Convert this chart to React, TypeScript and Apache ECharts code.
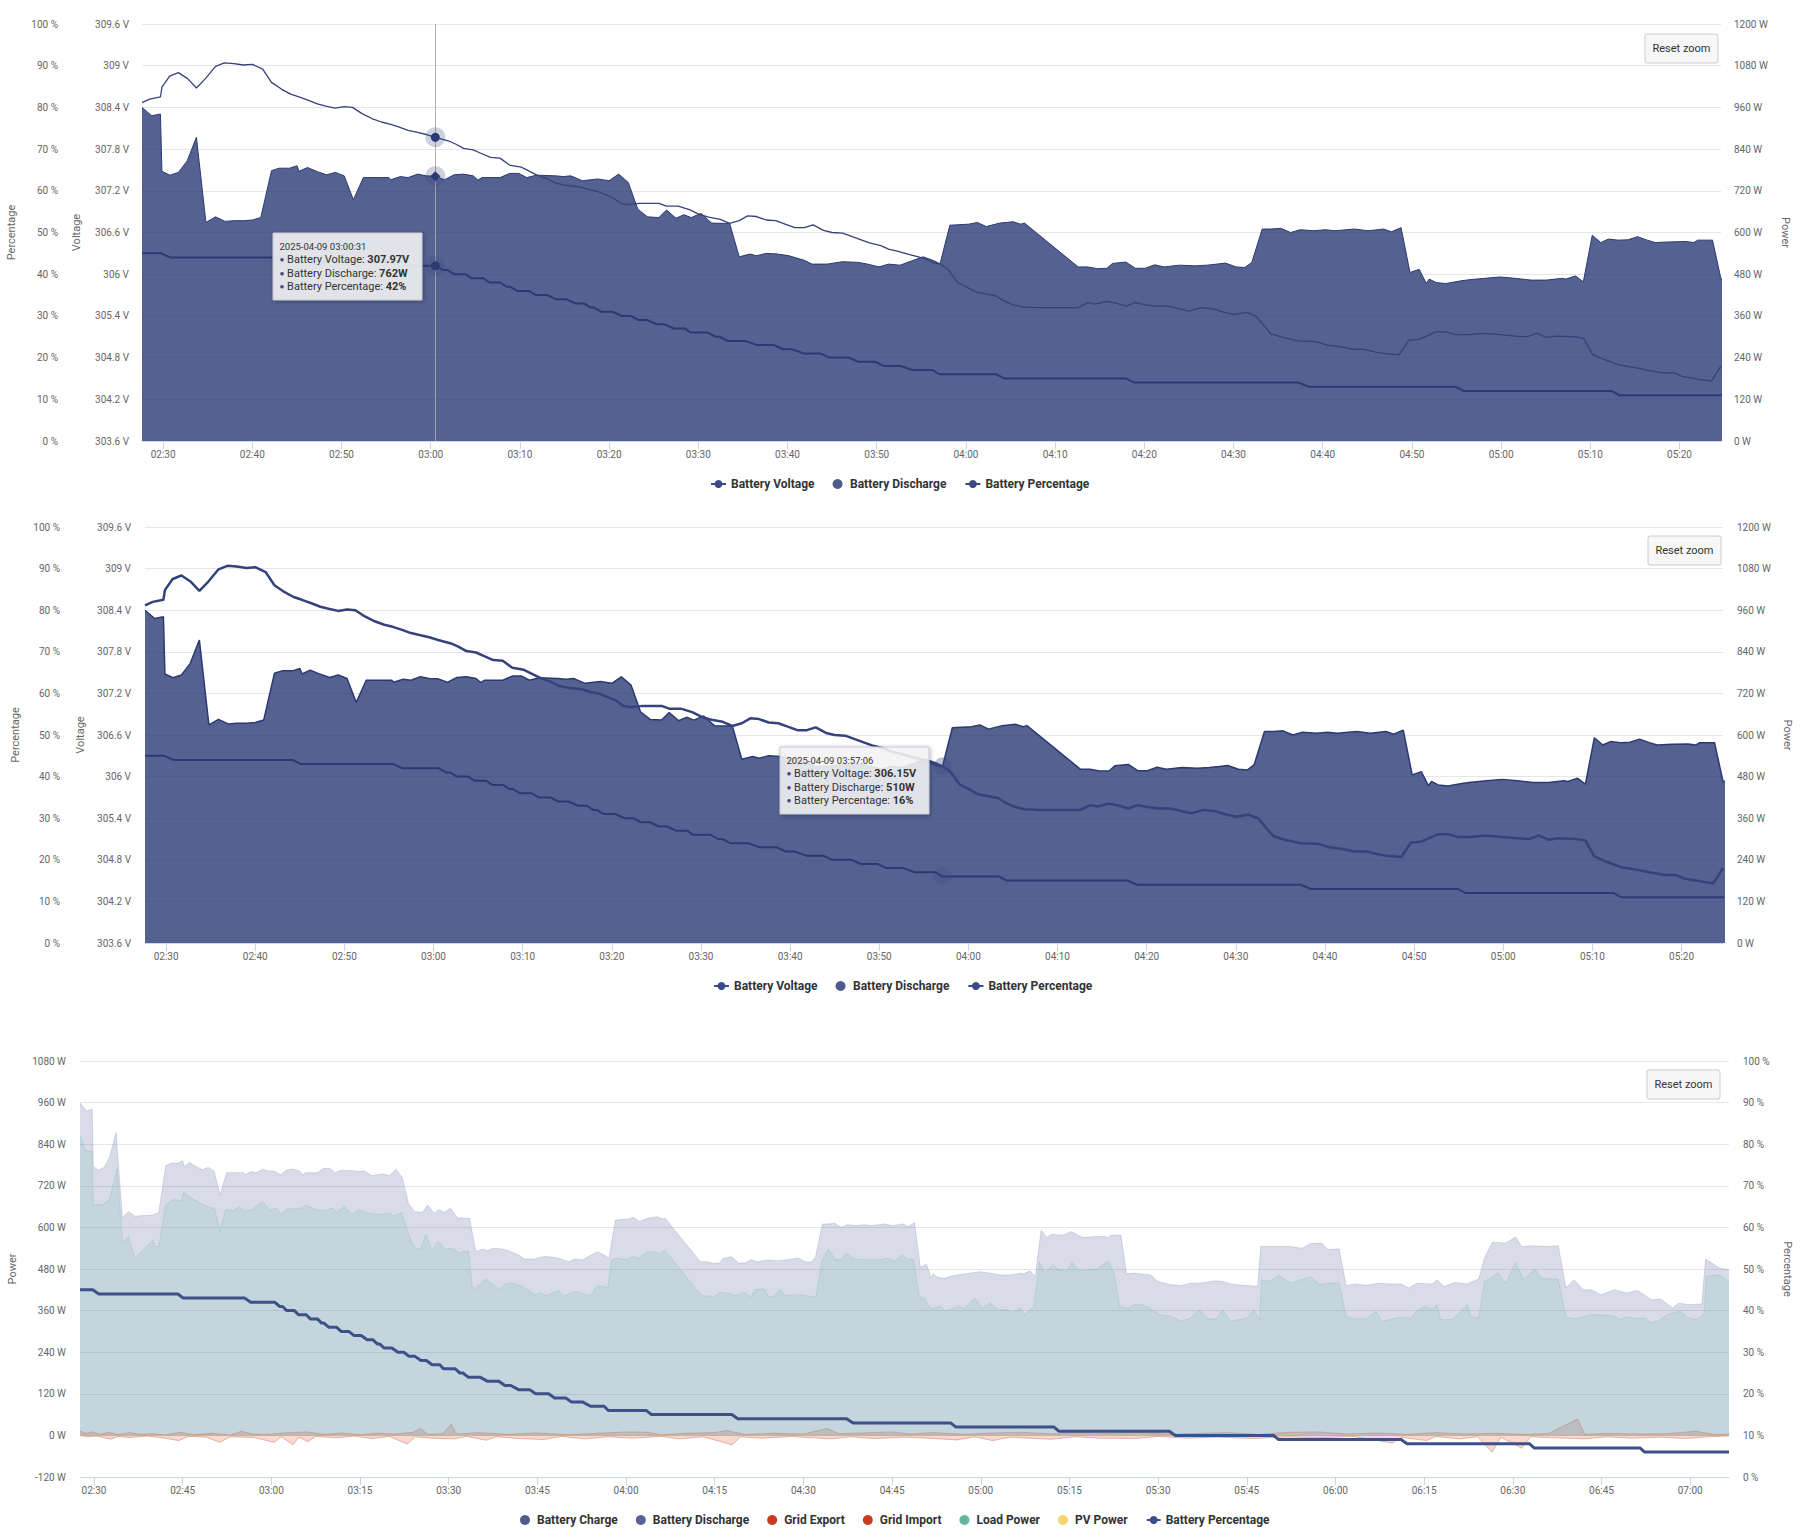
import React, { useEffect, useRef } from "react";
import * as echarts from "echarts";

const DAY = "2025-04-09";
const FONT = "Roboto, 'Noto Sans', sans-serif";

// ---------- data ----------
const batteryVoltage: [string, number][] = [
  ["02:27:38", 308.47], ["02:28:30", 308.52], ["02:29:42", 308.55], ["02:29:52", 308.69], ["02:30:44", 308.85],
  ["02:31:43", 308.9], ["02:32:47", 308.81], ["02:33:44", 308.68], ["02:34:43", 308.81], ["02:35:53", 308.99],
  ["02:36:52", 309.04], ["02:37:56", 309.03], ["02:39:01", 309.01], ["02:40:00", 309.02], ["02:41:10", 308.95],
  ["02:42:09", 308.76], ["02:43:18", 308.66], ["02:44:18", 308.59], ["02:45:14", 308.55], ["02:46:18", 308.5],
  ["02:47:18", 308.45], ["02:48:14", 308.42], ["02:49:18", 308.39], ["02:50:18", 308.41], ["02:51:14", 308.4],
  ["02:52:18", 308.31], ["02:53:24", 308.24], ["02:54:28", 308.19], ["02:55:26", 308.16], ["02:56:24", 308.12],
  ["02:57:28", 308.07], ["02:58:32", 308.04], ["02:59:31", 308.01], ["03:00:31", 307.97], ["03:01:58", 307.92],
  ["03:02:50", 307.87], ["03:03:41", 307.81], ["03:04:46", 307.79], ["03:05:37", 307.74], ["03:06:42", 307.68],
  ["03:07:46", 307.67], ["03:08:50", 307.57], ["03:10:08", 307.54], ["03:10:46", 307.5], ["03:11:51", 307.43],
  ["03:13:08", 307.37], ["03:14:00", 307.31], ["03:15:04", 307.28], ["03:16:34", 307.26], ["03:17:40", 307.22],
  ["03:18:43", 307.19], ["03:20:26", 307.1], ["03:21:17", 307.02], ["03:22:09", 307.0], ["03:23:26", 307.02],
  ["03:25:35", 307.02], ["03:26:26", 306.98], ["03:27:44", 306.98], ["03:29:01", 306.93], ["03:30:05", 306.86],
  ["03:31:10", 306.82], ["03:32:27", 306.79], ["03:33:31", 306.73], ["03:34:35", 306.77], ["03:35:32", 306.84],
  ["03:36:31", 306.83], ["03:37:36", 306.78], ["03:38:40", 306.77], ["03:39:44", 306.72], ["03:40:49", 306.67],
  ["03:41:53", 306.67], ["03:42:52", 306.71], ["03:44:02", 306.63], ["03:44:59", 306.6], ["03:46:11", 306.59],
  ["03:47:15", 306.54], ["03:48:20", 306.49], ["03:49:11", 306.45], ["03:50:28", 306.41], ["03:51:20", 306.36],
  ["03:52:24", 306.33], ["03:53:29", 306.29], ["03:55:12", 306.23], ["03:56:29", 306.16], ["03:57:06", 306.15],
  ["03:57:59", 306.07], ["03:59:04", 305.88], ["03:59:54", 305.83], ["04:00:59", 305.75], ["04:02:04", 305.72],
  ["04:03:21", 305.69], ["04:04:12", 305.62], ["04:05:17", 305.56], ["04:06:21", 305.53], ["04:08:04", 305.52],
  ["04:12:35", 305.52], ["04:13:39", 305.59], ["04:14:30", 305.57], ["04:15:48", 305.61], ["04:16:54", 305.58],
  ["04:17:56", 305.54], ["04:19:00", 305.59], ["04:20:05", 305.56], ["04:21:22", 305.54], ["04:22:40", 305.54],
  ["04:23:57", 305.5], ["04:25:00", 305.47], ["04:26:23", 305.52], ["04:27:42", 305.5], ["04:29:00", 305.45],
  ["04:30:05", 305.42], ["04:31:23", 305.45], ["04:32:29", 305.4], ["04:34:13", 305.14], ["04:35:31", 305.09],
  ["04:37:16", 305.04], ["04:39:13", 305.03], ["04:40:31", 304.98], ["04:41:49", 304.96], ["04:43:21", 304.92],
  ["04:44:39", 304.92], ["04:45:57", 304.88], ["04:46:50", 304.86], ["04:48:34", 304.84], ["04:49:39", 305.05],
  ["04:50:44", 305.06], ["04:52:42", 305.17], ["04:53:47", 305.17], ["04:54:52", 305.13], ["04:56:23", 305.13],
  ["04:57:54", 305.15], ["04:59:52", 305.13], ["05:01:36", 305.11], ["05:02:55", 305.1], ["05:04:00", 305.15],
  ["05:05:05", 305.09], ["05:06:10", 305.11], ["05:08:08", 305.1], ["05:09:13", 305.08], ["05:10:13", 304.85],
  ["05:11:23", 304.78], ["05:12:02", 304.75], ["05:13:21", 304.69], ["05:14:52", 304.66], ["05:16:23", 304.62],
  ["05:18:08", 304.58], ["05:19:26", 304.58], ["05:20:18", 304.53], ["05:22:02", 304.49], ["05:23:34", 304.46],
  ["05:24:39", 304.68],
];

const batteryDischarge: [string, number][] = [
  ["02:27:38", 960], ["02:28:43", 936], ["02:29:42", 941], ["02:29:52", 776], ["02:30:46", 765], ["02:31:43", 773],
  ["02:32:42", 806], ["02:33:44", 874], ["02:34:48", 629], ["02:35:53", 645], ["02:36:57", 632], ["02:37:56", 634],
  ["02:39:01", 634], ["02:40:00", 636], ["02:40:57", 643], ["02:42:09", 778], ["02:43:00", 785], ["02:44:10", 785],
  ["02:45:01", 792], ["02:45:14", 776], ["02:46:11", 787], ["02:47:18", 775], ["02:48:20", 766], ["02:49:18", 773],
  ["02:50:18", 763], ["02:51:20", 694], ["02:52:27", 758], ["02:54:15", 758], ["02:55:19", 758], ["02:55:32", 752],
  ["02:56:36", 761], ["02:57:28", 758], ["02:58:32", 768], ["02:59:30", 763], ["03:00:31", 762], ["03:01:33", 752],
  ["03:02:37", 766], ["03:03:41", 768], ["03:04:46", 763], ["03:05:17", 751], ["03:05:45", 758], ["03:07:46", 758],
  ["03:08:50", 770], ["03:09:54", 770], ["03:10:46", 758], ["03:11:51", 765], ["03:14:00", 763], ["03:14:51", 761],
  ["03:15:42", 763], ["03:17:00", 749], ["03:18:43", 754], ["03:20:00", 749], ["03:21:04", 768], ["03:22:09", 744],
  ["03:23:13", 667], ["03:24:18", 645], ["03:25:35", 643], ["03:26:26", 665], ["03:27:30", 641], ["03:28:22", 651],
  ["03:29:13", 643], ["03:30:18", 655], ["03:31:30", 627], ["03:33:31", 626], ["03:34:35", 530], ["03:35:48", 538],
  ["03:36:31", 533], ["03:37:36", 540], ["03:38:53", 538], ["03:40:10", 533], ["03:41:53", 520], ["03:42:45", 509],
  ["03:44:28", 509], ["03:46:11", 516], ["03:47:54", 514], ["03:48:58", 509], ["03:50:15", 501], ["03:51:20", 509],
  ["03:52:37", 506], ["03:53:54", 518], ["03:55:12", 530], ["03:56:29", 518], ["03:57:06", 510], ["03:58:12", 621],
  ["04:00:20", 624], ["04:01:17", 629], ["04:02:16", 617], ["04:03:47", 627], ["04:05:17", 631], ["04:06:09", 624],
  ["04:06:34", 627], ["04:12:35", 501], ["04:13:39", 501], ["04:14:43", 496], ["04:15:48", 497], ["04:16:26", 511],
  ["04:17:56", 515], ["04:19:00", 497], ["04:20:05", 497], ["04:21:10", 507], ["04:22:14", 501], ["04:23:57", 506],
  ["04:25:40", 504], ["04:27:02", 506], ["04:28:08", 509], ["04:29:05", 512], ["04:30:18", 501], ["04:31:16", 499],
  ["04:32:03", 514], ["04:33:13", 610], ["04:34:13", 610], ["04:35:18", 612], ["04:36:24", 600], ["04:37:29", 608],
  ["04:39:00", 605], ["04:40:18", 608], ["04:41:23", 605], ["04:43:34", 610], ["04:45:05", 605], ["04:46:50", 610],
  ["04:47:42", 602], ["04:48:47", 614], ["04:49:47", 485], ["04:50:49", 494], ["04:51:36", 454], ["04:51:57", 466],
  ["04:52:42", 456], ["04:53:47", 453], ["04:55:31", 461], ["04:56:23", 464], ["04:58:08", 468], ["04:59:52", 472],
  ["05:01:36", 468], ["05:03:21", 463], ["05:05:05", 463], ["05:06:49", 468], ["05:07:15", 466], ["05:08:21", 475],
  ["05:09:13", 458], ["05:10:13", 592], ["05:11:10", 571], ["05:12:02", 581], ["05:13:08", 578], ["05:14:13", 579],
  ["05:15:18", 588], ["05:16:23", 578], ["05:17:16", 571], ["05:19:00", 573], ["05:20:44", 574], ["05:21:36", 571],
  ["05:22:02", 578], ["05:23:42", 578], ["05:24:39", 466], ["05:26:06", 468], ["05:28:41", 463], ["05:30:00", 444],
  ["05:31:55", 435], ["05:33:52", 432], ["05:35:28", 439], ["05:37:00", 439], ["05:39:37", 446], ["05:40:56", 444],
  ["05:42:15", 437], ["05:44:13", 433], ["05:46:50", 430], ["05:47:22", 545], ["05:52:05", 545], ["05:54:23", 540],
  ["05:55:42", 553], ["05:57:40", 555], ["05:58:39", 536], ["06:00:37", 538], ["06:01:48", 432], ["06:03:14", 437],
  ["06:05:12", 433], ["06:07:11", 439], ["06:09:09", 437], ["06:11:07", 437], ["06:12:26", 425], ["06:13:44", 439],
  ["06:16:22", 437], ["06:17:09", 449], ["06:18:20", 430], ["06:20:18", 441], ["06:22:16", 437], ["06:23:15", 444],
  ["06:24:14", 451], ["06:25:13", 512], ["06:26:32", 557], ["06:28:50", 555], ["06:30:28", 572], ["06:31:28", 545],
  ["06:33:26", 547], ["06:35:43", 545], ["06:37:41", 547], ["06:39:00", 425], ["06:40:19", 449], ["06:41:58", 420],
  ["06:43:16", 420], ["06:44:54", 406], ["06:47:12", 420], ["06:49:10", 411], ["06:51:08", 418], ["06:53:26", 391],
  ["06:55:05", 393], ["06:57:03", 367], ["06:58:02", 382], ["06:59:40", 377], ["07:01:58", 379], ["07:02:37", 509],
  ["07:04:55", 483], ["07:06:34", 478],
];

const loadPower: [string, number][] = [
  ["02:27:38", 864], ["02:28:43", 819], ["02:29:41", 819], ["02:29:52", 665], ["02:31:17", 665], ["02:32:35", 678],
  ["02:33:53", 768], ["02:34:51", 555], ["02:35:49", 574], ["02:36:55", 512], ["02:38:24", 537], ["02:40:01", 564],
  ["02:40:20", 545], ["02:40:59", 545], ["02:42:05", 663], ["02:43:15", 680], ["02:44:52", 678], ["02:45:11", 701],
  ["02:46:29", 684], ["02:48:06", 670], ["02:49:43", 656], ["02:50:22", 656], ["02:51:20", 589], ["02:52:18", 651],
  ["02:53:36", 648], ["02:54:34", 660], ["02:55:32", 646], ["02:56:50", 652], ["02:58:27", 675], ["02:59:44", 649],
  ["03:00:42", 656], ["03:01:40", 639], ["03:02:39", 652], ["03:05:14", 656], ["03:05:53", 665], ["03:07:30", 651],
  ["03:09:06", 649], ["03:10:24", 656], ["03:11:03", 643], ["03:12:20", 660], ["03:13:38", 639], ["03:14:56", 651],
  ["03:16:13", 641], ["03:18:10", 637], ["03:20:06", 641], ["03:20:44", 632], ["03:22:02", 643], ["03:23:20", 574],
  ["03:24:18", 540], ["03:25:16", 538], ["03:26:07", 580], ["03:27:13", 533], ["03:28:11", 560], ["03:29:28", 538],
  ["03:30:46", 540], ["03:31:44", 526], ["03:33:21", 533], ["03:34:00", 425], ["03:34:38", 425], ["03:36:15", 451],
  ["03:38:30", 422], ["03:39:48", 439], ["03:40:46", 439], ["03:42:23", 430], ["03:44:40", 406], ["03:45:18", 411],
  ["03:46:36", 403], ["03:48:32", 418], ["03:49:30", 401], ["03:50:48", 412], ["03:51:46", 415], ["03:53:04", 406],
  ["03:54:02", 403], ["03:55:00", 430], ["03:56:15", 430], ["03:56:54", 425], ["03:57:32", 507], ["03:58:31", 511],
  ["04:00:08", 507], ["04:01:06", 516], ["04:02:04", 511], ["04:03:22", 526], ["04:04:39", 531], ["04:05:37", 524],
  ["04:06:36", 534], ["04:12:44", 403], ["04:15:00", 401], ["04:15:58", 412], ["04:17:35", 409], ["04:18:33", 403],
  ["04:19:51", 412], ["04:21:08", 399], ["04:21:47", 420], ["04:23:24", 422], ["04:24:03", 401], ["04:25:00", 401],
  ["04:25:59", 422], ["04:26:57", 403], ["04:29:13", 406], ["04:31:09", 401], ["04:32:08", 399], ["04:33:06", 502],
  ["04:34:12", 537], ["04:35:21", 508], ["04:36:19", 505], ["04:37:17", 526], ["04:38:35", 508], ["04:40:51", 507],
  ["04:42:47", 507], ["04:44:24", 511], ["04:45:23", 502], ["04:46:40", 520], ["04:47:38", 508], ["04:48:36", 508],
  ["04:49:35", 401], ["04:50:33", 393], ["04:51:31", 364], ["04:53:08", 372], ["04:54:06", 358], ["04:56:03", 372],
  ["04:57:20", 367], ["04:58:57", 396], ["05:00:15", 367], ["05:01:32", 382], ["05:02:11", 372], ["05:03:09", 361],
  ["05:04:27", 363], ["05:05:25", 355], ["05:06:43", 367], ["05:07:22", 348], ["05:08:58", 372], ["05:09:56", 499],
  ["05:10:54", 468], ["05:12:12", 492], ["05:13:10", 478], ["05:14:28", 473], ["05:15:26", 499], ["05:16:24", 478],
  ["05:17:23", 476], ["05:19:00", 478], ["05:19:38", 480], ["05:21:35", 502], ["05:22:33", 468], ["05:23:31", 372],
  ["05:24:48", 367], ["05:26:06", 377], ["05:27:24", 377], ["05:29:01", 362], ["05:30:18", 348], ["05:32:14", 343],
  ["05:33:52", 329], ["05:35:29", 338], ["05:36:58", 362], ["05:38:19", 338], ["05:39:37", 334], ["05:40:56", 362],
  ["05:42:15", 329], ["05:43:34", 334], ["05:44:52", 336], ["05:46:11", 362], ["05:47:10", 334], ["05:47:30", 449],
  ["05:48:48", 444], ["05:50:27", 461], ["05:52:25", 439], ["05:54:03", 449], ["05:55:42", 457], ["05:57:20", 435],
  ["05:58:59", 439], ["06:00:37", 439], ["06:01:48", 343], ["06:03:14", 336], ["06:05:12", 336], ["06:06:51", 358],
  ["06:07:50", 329], ["06:09:09", 334], ["06:11:07", 341], ["06:12:45", 338], ["06:13:44", 358], ["06:15:03", 372],
  ["06:16:22", 364], ["06:17:09", 377], ["06:17:48", 334], ["06:19:39", 334], ["06:20:58", 353], ["06:22:16", 377],
  ["06:22:56", 343], ["06:24:14", 338], ["06:25:13", 444], ["06:27:31", 468], ["06:28:50", 439], ["06:30:28", 499],
  ["06:31:47", 449], ["06:33:45", 480], ["06:34:44", 454], ["06:36:03", 451], ["06:37:41", 451], ["06:39:00", 341],
  ["06:40:38", 336], ["06:41:58", 343], ["06:43:16", 348], ["06:45:14", 348], ["06:47:12", 343], ["06:48:12", 334],
  ["06:49:10", 341], ["06:51:08", 338], ["06:52:27", 338], ["06:53:26", 324], ["06:54:45", 332], ["06:56:24", 351],
  ["06:58:22", 358], ["06:59:40", 338], ["07:00:59", 334], ["07:02:18", 348], ["07:02:47", 459], ["07:04:55", 464],
  ["07:06:34", 444],
];

const batteryPercentage: [string, number][] = [
  ["02:27:38", 45], ["02:29:48", 45], ["02:30:48", 44], ["02:44:12", 44], ["02:45:06", 43], ["02:55:30", 43],
  ["02:56:30", 42], ["03:00:36", 42], ["03:01:24", 41], ["03:01:54", 41], ["03:02:36", 40], ["03:03:54", 40],
  ["03:04:36", 39], ["03:05:54", 39], ["03:06:36", 38], ["03:07:48", 38], ["03:08:30", 37], ["03:08:54", 37],
  ["03:09:42", 36], ["03:11:00", 36], ["03:11:48", 35], ["03:13:06", 35], ["03:14:00", 34], ["03:15:12", 34],
  ["03:16:12", 33], ["03:17:12", 33], ["03:17:54", 32], ["03:18:18", 32], ["03:19:06", 31], ["03:20:24", 31],
  ["03:21:24", 30], ["03:22:24", 30], ["03:23:18", 29], ["03:24:18", 29], ["03:25:18", 28], ["03:26:12", 28],
  ["03:27:12", 27], ["03:28:30", 27], ["03:29:06", 26], ["03:31:06", 26], ["03:31:54", 25], ["03:32:24", 25],
  ["03:33:18", 24], ["03:35:18", 24], ["03:36:36", 23], ["03:38:30", 23], ["03:39:30", 22], ["03:40:30", 22],
  ["03:41:48", 21], ["03:43:42", 21], ["03:44:42", 20], ["03:46:54", 20], ["03:47:54", 19], ["03:49:48", 19],
  ["03:50:48", 18], ["03:52:42", 18], ["03:54:00", 17], ["03:56:18", 17], ["03:57:00", 16], ["04:03:24", 16],
  ["04:04:18", 15], ["04:17:54", 15], ["04:18:54", 14], ["04:37:18", 14], ["04:38:24", 13], ["04:54:54", 13],
  ["04:55:48", 12], ["05:12:24", 12], ["05:13:12", 11], ["05:31:54", 11], ["05:32:54", 10], ["05:49:30", 10],
  ["05:50:24", 9], ["06:11:06", 9], ["06:12:06", 8], ["06:32:48", 8], ["06:33:36", 7], ["06:51:30", 7],
  ["06:52:18", 6], ["07:06:34", 6],
];

const gridImport: [string, number][] = [
  ["02:27:38", 12], ["02:28:40", 6], ["02:29:40", 10], ["02:31:00", 3], ["02:32:30", 9], ["02:34:00", 2],
  ["02:36:00", 8], ["02:38:00", 3], ["02:40:00", 5], ["02:42:00", 1], ["02:44:30", 9], ["02:47:00", 2],
  ["02:50:00", 6], ["02:53:00", 1], ["02:55:00", 12], ["02:57:00", 3], ["03:00:00", 4], ["03:03:00", 8],
  ["03:06:00", 10], ["03:09:00", 3], ["03:12:00", 7], ["03:15:00", 2], ["03:18:00", 6], ["03:21:00", 4],
  ["03:24:00", 9], ["03:25:10", 20], ["03:26:30", 3], ["03:29:00", 5], ["03:30:26", 32], ["03:31:20", 4],
  ["03:35:00", 8], ["03:40:00", 3], ["03:45:00", 7], ["03:50:00", 2], ["03:55:00", 6], ["04:00:00", 10],
  ["04:03:30", 9], ["04:06:00", 2], ["04:10:00", 6], ["04:15:00", 8], ["04:17:00", 14], ["04:20:00", 3],
  ["04:25:00", 6], ["04:30:00", 4], ["04:34:00", 20], ["04:36:00", 5], ["04:40:00", 7], ["04:45:00", 10],
  ["04:48:00", 4], ["04:52:00", 8], ["04:57:00", 3], ["05:02:00", 7], ["05:07:00", 9], ["05:12:00", 4],
  ["05:17:00", 8], ["05:22:00", 5], ["05:27:00", 9], ["05:32:00", 3], ["05:37:00", 6], ["05:42:00", 8],
  ["05:47:00", 3], ["05:52:00", 9], ["05:57:00", 10], ["06:02:00", 4], ["06:07:00", 7], ["06:12:00", 3],
  ["06:17:00", 8], ["06:22:00", 4], ["06:27:00", 6], ["06:32:00", 3], ["06:36:00", 5], ["06:40:58", 47],
  ["06:42:10", 3], ["06:46:00", 6], ["06:51:00", 4], ["06:56:00", 5], ["07:01:00", 12], ["07:04:00", 3],
  ["07:06:34", 4],
];

const gridExport: [string, number][] = [
  ["02:27:38", 0], ["02:29:00", -4], ["02:30:30", -2], ["02:32:50", -11], ["02:34:00", -3], ["02:36:00", -6],
  ["02:39:00", -2], ["02:42:00", -8], ["02:44:20", -15], ["02:46:00", -3], ["02:49:00", -5], ["02:51:20", -20],
  ["02:53:00", -4], ["02:57:00", -6], ["03:00:30", -20], ["03:01:40", -4], ["03:03:40", -27], ["03:04:40", -5],
  ["03:06:10", -18], ["03:07:30", -3], ["03:11:00", -7], ["03:14:00", -2], ["03:17:00", -9], ["03:20:00", -3],
  ["03:23:00", -25], ["03:24:20", -4], ["03:27:00", -8], ["03:31:00", -10], ["03:33:00", -3], ["03:36:20", -14],
  ["03:38:00", -4], ["03:42:00", -9], ["03:46:00", -12], ["03:49:00", -3], ["03:53:00", -10], ["03:57:00", -4],
  ["04:01:00", -8], ["04:06:00", -3], ["04:09:00", -10], ["04:13:00", -4], ["04:18:00", -27], ["04:19:20", -4],
  ["04:23:00", -8], ["04:28:00", -3], ["04:34:30", -10], ["04:38:00", -4], ["04:42:00", -9], ["04:47:00", -5],
  ["04:51:00", -8], ["04:56:00", -13], ["04:59:00", -4], ["05:02:00", -15], ["05:05:00", -5], ["05:09:00", -9],
  ["05:12:00", -11], ["05:16:00", -4], ["05:20:00", -8], ["05:26:00", -9], ["05:30:00", -3], ["05:35:00", -8],
  ["05:40:00", -5], ["05:46:00", -9], ["05:52:00", -4], ["05:57:00", -7], ["06:03:00", -3], ["06:09:40", -22],
  ["06:11:00", -5], ["06:15:20", -15], ["06:17:00", -3], ["06:21:00", -10], ["06:24:00", -4], ["06:26:30", -48],
  ["06:28:00", -5], ["06:31:30", -37], ["06:33:00", -4], ["06:37:00", -7], ["06:42:00", -10], ["06:46:00", -4],
  ["06:50:00", -8], ["06:55:00", -5], ["06:59:00", -9], ["07:03:00", -4], ["07:06:34", -2],
];

const batteryCharge: [string, number][] = [["02:27:38", 0], ["07:06:34", 0]];
const pvPower: [string, number][] = [["02:27:38", 0], ["07:06:34", 0]];

const ticks10 = ["02:30", "02:40", "02:50", "03:00", "03:10", "03:20", "03:30", "03:40", "03:50", "04:00",
  "04:10", "04:20", "04:30", "04:40", "04:50", "05:00", "05:10", "05:20"];
const ticks15 = ["02:30", "02:45", "03:00", "03:15", "03:30", "03:45", "04:00", "04:15", "04:30", "04:45",
  "05:00", "05:15", "05:30", "05:45", "06:00", "06:15", "06:30", "06:45", "07:00"];
const rangeVoltage = ["02:27:38", "05:24:39"];
const rangePower = ["02:27:38", "07:06:34"];
const hover1 = "03:00:31";
const hover2 = "03:57:06";

// ---------- helpers ----------
const ts = (s: string) => new Date(`${DAY}T${s.length === 5 ? s + ":00" : s}`).getTime();
const pad = (n: number) => String(n).padStart(2, "0");
const hhmm = (v: number) => {
  const d = new Date(v);
  return `${pad(d.getHours())}:${pad(d.getMinutes())}`;
};
const toSeries = (arr: [string, number][]) => arr.map(([t, v]) => [ts(t), v]);
const valueAt = (arr: [string, number][], t: string) => {
  let val = arr[0][1];
  for (const [tt, v] of arr) if (ts(tt) <= ts(t)) val = v;
  return val;
};

const DARK = "#2b3a74";
const LINE = "#34437c";
const HALO = "rgba(61,75,128,0.25)";
const TOP = 200;

const xAxisFor = (gridIndex: number, range: string[], ticks: string[]) => {
  const vals = ticks.map(ts);
  return {
    type: "value",
    gridIndex,
    min: ts(range[0]),
    max: ts(range[1]),
    axisLine: { show: true, onZero: false, lineStyle: { color: "#ccd6eb", width: 1 } },
    axisTick: { show: true, length: 8, lineStyle: { color: "#ccd6eb" }, customValues: vals },
    axisLabel: { color: "#666", fontSize: 10, fontFamily: FONT, margin: 8, formatter: hhmm, customValues: vals, hideOverlap: false },
    splitLine: { show: false },
  };
};

const yBase = (o: any) => ({
  axisLine: { show: false },
  axisTick: { show: false },
  nameLocation: "middle",
  nameTextStyle: { color: "#666", fontSize: 11, fontFamily: FONT },
  ...o,
  axisLabel: { color: "#666", fontSize: 10, fontFamily: FONT, ...(o.axisLabel || {}) },
});

const pctAxis = (gridIndex: number, position: string, offset: number, nameGap: number, split: boolean, margin: number, rotate?: number) =>
  yBase({
    type: "value", gridIndex, position, offset, min: 0, max: 100, interval: 10,
    name: "Percentage", nameGap, nameRotate: rotate,
    splitLine: { show: split, lineStyle: { color: "#e6e6e6", width: 1 } },
    axisLabel: { margin, formatter: (v: number) => `${v} %` },
  });
const voltAxis = (gridIndex: number, nameGap: number, margin: number) =>
  yBase({
    type: "value", gridIndex, position: "left", offset: 0, min: 303.6, max: 309.6, interval: 0.6,
    name: "Voltage", nameGap, splitLine: { show: false },
    axisLabel: { margin, formatter: (v: number) => `${parseFloat(v.toFixed(1))} V` },
  });
const powerAxis = (gridIndex: number, position: string, min: number, max: number, nameGap: number, split: boolean, margin: number, rotate?: number) =>
  yBase({
    type: "value", gridIndex, position, offset: 0, min, max, interval: 120,
    name: "Power", nameGap, nameRotate: rotate,
    splitLine: { show: split, lineStyle: { color: "#e6e6e6", width: 1 } },
    axisLabel: { margin, formatter: (v: number) => `${v} W` },
  });

const dot = (t: string, v: number, symbol: string, size: number, color: string) => ({
  coord: [ts(t), v], symbol, symbolSize: size, itemStyle: { color },
});
const markPts = (items: any[]) => ({ silent: true, animation: false, label: { show: false }, data: items });

const voltageChart = (xi: number, yPct: number, yVolt: number, yPow: number, hover: string, active: boolean, vWidth: number, dWidth: number) => {
  const v = valueAt(batteryVoltage, hover);
  const d = valueAt(batteryDischarge, hover);
  const p = valueAt(batteryPercentage, hover);
  const fade = "rgba(61,75,128,0.35)";
  const disc: any = {
    name: "Battery Discharge", type: "line", xAxisIndex: xi, yAxisIndex: yPow, data: toSeries(batteryDischarge),
    showSymbol: false, symbol: "circle", itemStyle: { color: DARK }, lineStyle: { width: dWidth, color: DARK },
    areaStyle: { color: DARK, opacity: 0.8 }, z: 2, emphasis: { disabled: true }, silent: true,
    markPoint: markPts(active
      ? [dot(hover, d, "circle", 20, HALO), dot(hover, d, "diamond", 10, DARK)]
      : [dot(hover, d, "circle", 18, fade)]),
  };
  if (active) {
    disc.markLine = {
      silent: true, symbol: ["none", "none"], label: { show: false },
      lineStyle: { color: "rgba(170,170,170,0.9)", width: 1, type: "solid" }, data: [{ xAxis: ts(hover) }],
    };
  }
  return [
    disc,
    {
      name: "Battery Voltage", type: "line", xAxisIndex: xi, yAxisIndex: yVolt, data: toSeries(batteryVoltage),
      showSymbol: false, symbol: "circle", itemStyle: { color: LINE }, lineStyle: { width: vWidth, color: LINE },
      z: 3, emphasis: { disabled: true }, silent: true,
      markPoint: markPts(active ? [dot(hover, v, "circle", 20, HALO), dot(hover, v, "circle", 9, DARK)] : []),
    },
    {
      name: "Battery Percentage", type: "line", xAxisIndex: xi, yAxisIndex: yPct, data: toSeries(batteryPercentage),
      showSymbol: false, symbol: "circle", itemStyle: { color: DARK }, lineStyle: { width: 2, color: DARK },
      z: 3, emphasis: { disabled: true }, silent: true,
      markPoint: markPts(active
        ? [dot(hover, p, "circle", 20, HALO), dot(hover, p, "circle", 9, DARK)]
        : [dot(hover, p, "circle", 18, "rgba(61,75,128,0.22)")]),
    },
  ];
};

const tooltipGroup = (x: number, y: number, hover: string) => {
  const v = valueAt(batteryVoltage, hover);
  const d = valueAt(batteryDischarge, hover);
  const p = valueAt(batteryPercentage, hover);
  const text =
    `{d|${DAY} ${hover}}\n` +
    `{b|●} {n|Battery Voltage: }{v|${v.toFixed(2)}V}\n` +
    `{b|●} {n|Battery Discharge: }{v|${d}W}\n` +
    `{b|●} {n|Battery Percentage: }{v|${p}%}`;
  const lh = 13.3;
  return {
    type: "group", x, y, z: TOP, silent: true,
    children: [
      {
        type: "rect", z: TOP, shape: { x: 0, y: 0, width: 149, height: 67 },
        style: { fill: "rgba(247,247,247,0.86)", stroke: "#c5c9d6", lineWidth: 1, shadowBlur: 4, shadowColor: "rgba(0,0,0,0.3)", shadowOffsetX: 1, shadowOffsetY: 1 },
      },
      {
        type: "text", z: TOP + 1, x: 6.5, y: 7,
        style: {
          text, fontSize: 11, fontFamily: FONT, fill: "#333", align: "left", verticalAlign: "top",
          rich: {
            d: { fontSize: 9.5, fontFamily: FONT, fill: "#333", lineHeight: lh },
            b: { fontSize: 8, fontFamily: FONT, fill: "#3d4b80", lineHeight: lh },
            n: { fontSize: 11, fontFamily: FONT, fill: "#333", lineHeight: lh },
            v: { fontSize: 11, fontFamily: FONT, fontWeight: "bold", fill: "#333", lineHeight: lh },
          },
        },
      },
    ],
  };
};

const resetBtn = (x: number, y: number) => ({
  type: "group", x, y, z: TOP, silent: true,
  children: [
    { type: "rect", z: TOP, shape: { x: 0, y: 0, width: 73, height: 29, r: 2 }, style: { fill: "#f7f7f7", stroke: "#cccccc", lineWidth: 1 } },
    { type: "text", z: TOP + 1, x: 36.5, y: 14.5, style: { text: "Reset zoom", fill: "#333", fontSize: 11, fontFamily: FONT, align: "center", verticalAlign: "middle" } },
  ],
});

const legendText = { color: "#333", fontSize: 12, fontWeight: "bold", fontFamily: FONT };
const lineItem = (name: string, color: string) => ({ name, itemStyle: { color }, lineStyle: { color } });
const circleItem = (name: string, color: string) => ({ name, icon: "circle", itemStyle: { color } });

const buildOption = () => ({
  animation: false,
  backgroundColor: "#ffffff",
  textStyle: { fontFamily: FONT },
  grid: [
    { left: 142, right: 87, top: 24, height: 417, outerBoundsMode: "none", containLabel: false },
    { left: 145, right: 85, top: 527, height: 416, outerBoundsMode: "none", containLabel: false },
    { left: 80, right: 79, top: 1061, height: 416, outerBoundsMode: "none", containLabel: false },
  ],
  xAxis: [
    xAxisFor(0, rangeVoltage, ticks10),
    xAxisFor(1, rangeVoltage, ticks10),
    xAxisFor(2, rangePower, ticks15),
  ],
  yAxis: [
    pctAxis(0, "left", 71, 54, true, 13),
    voltAxis(0, 60, 13),
    powerAxis(0, "right", 0, 1200, 59, false, 13, -90),
    pctAxis(1, "left", 71, 53, true, 14),
    voltAxis(1, 59, 14),
    powerAxis(1, "right", 0, 1200, 59, false, 14, -90),
    powerAxis(2, "left", -120, 1080, 62, true, 14),
    pctAxis(2, "right", 0, 53, false, 14, -90),
  ],
  legend: [
    {
      left: 710, top: 478, padding: 0, itemWidth: 15, itemHeight: 10, itemGap: 18, textStyle: legendText, selectedMode: false,
      data: [lineItem("Battery Voltage", "#3b4a84"), circleItem("Battery Discharge", "#4f5b8d"), lineItem("Battery Percentage", "#3b4a84")],
    },
    {
      left: 713, top: 980, padding: 0, itemWidth: 15, itemHeight: 10, itemGap: 18, textStyle: legendText, selectedMode: false,
      data: [lineItem("Battery Voltage", "#3b4a84"), circleItem("Battery Discharge", "#4f5b8d"), lineItem("Battery Percentage", "#3b4a84")],
    },
    {
      left: 520, top: 1514, padding: 0, itemWidth: 14, itemHeight: 10, itemGap: 18, textStyle: legendText, selectedMode: false,
      data: [
        circleItem("Battery Charge", "#4f5b8d"),
        circleItem("Battery Discharge", "#57619a"),
        circleItem("Grid Export", "#cc3a1c"),
        circleItem("Grid Import", "#cc3a1c"),
        circleItem("Load Power", "#64b4a2"),
        circleItem("PV Power", "#f3d46e"),
        lineItem("Battery Percentage", "#3b4f8b"),
      ],
    },
  ],
  series: [
    ...voltageChart(0, 0, 1, 2, hover1, true, 1.3, 1),
    ...voltageChart(1, 3, 4, 5, hover2, false, 2.5, 1.5),
    {
      name: "Battery Charge", type: "line", xAxisIndex: 2, yAxisIndex: 6, data: toSeries(batteryCharge),
      showSymbol: false, itemStyle: { color: "#4f5b8d" }, lineStyle: { width: 1, color: "#4f5b8d", opacity: 0.1 },
      areaStyle: { opacity: 0.2 }, z: 2, silent: true,
    },
    {
      name: "Battery Discharge", type: "line", xAxisIndex: 2, yAxisIndex: 6, data: toSeries(batteryDischarge),
      showSymbol: false, itemStyle: { color: "rgb(67,79,138)" }, lineStyle: { width: 1, color: "rgba(67,79,138,0.18)" },
      areaStyle: { color: "rgb(67,79,138)", opacity: 0.2 }, z: 2, silent: true,
    },
    {
      name: "Grid Export", type: "line", xAxisIndex: 2, yAxisIndex: 6, data: toSeries(gridExport),
      showSymbol: false, itemStyle: { color: "#d9532f" }, lineStyle: { width: 1, color: "rgba(200,120,100,0.5)" },
      areaStyle: { color: "#e0634a", opacity: 0.25 }, z: 2, silent: true,
    },
    {
      name: "Grid Import", type: "line", xAxisIndex: 2, yAxisIndex: 6, data: toSeries(gridImport),
      showSymbol: false, itemStyle: { color: "#b8503a" }, lineStyle: { width: 1, color: "rgba(190,120,100,0.45)" },
      areaStyle: { color: "#b05a48", opacity: 0.22 }, z: 2, silent: true,
    },
    {
      name: "Load Power", type: "line", xAxisIndex: 2, yAxisIndex: 6, data: toSeries(loadPower),
      showSymbol: false, itemStyle: { color: "rgb(100,185,170)" }, lineStyle: { width: 1, color: "rgba(100,185,170,0.25)" },
      areaStyle: { color: "rgb(100,185,170)", opacity: 0.18 }, z: 2, silent: true,
    },
    {
      name: "PV Power", type: "line", xAxisIndex: 2, yAxisIndex: 6, data: toSeries(pvPower),
      showSymbol: false, itemStyle: { color: "#f3d46e" }, lineStyle: { width: 1, color: "#d8b080", opacity: 0.8 },
      z: 2, silent: true,
    },
    {
      name: "Battery Percentage", type: "line", xAxisIndex: 2, yAxisIndex: 7, data: toSeries(batteryPercentage),
      showSymbol: false, symbol: "circle", itemStyle: { color: "#3d5189" }, lineStyle: { width: 3, color: "#3d5189" },
      z: 4, silent: true,
    },
  ],
  graphic: {
    elements: [
      resetBtn(1645, 34),
      resetBtn(1648, 536),
      resetBtn(1647, 1070),
      tooltipGroup(273, 233, hover1),
      tooltipGroup(780, 747, hover2),
    ],
  },
});

export default function App() {
  const ref = useRef<HTMLDivElement>(null);
  useEffect(() => {
    if (!ref.current) return;
    const chart = echarts.init(ref.current, undefined, { renderer: "svg" });
    chart.setOption(buildOption() as any);
    return () => chart.dispose();
  }, []);
  return (
    <div
      ref={ref}
      style={{ position: "absolute", left: 0, top: 0, width: 1808, height: 1539, background: "#ffffff" }}
    />
  );
}
